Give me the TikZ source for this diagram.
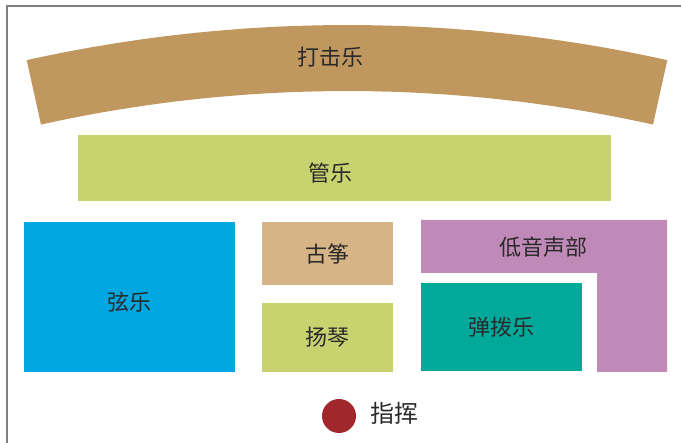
\documentclass[tikz,border=0pt]{standalone}
\usepackage{fontspec}
\newfontfamily\cjk{Noto Sans CJK SC}
\usetikzlibrary{positioning}
\definecolor{percussion}{HTML}{C0975E}
\definecolor{wind}{HTML}{C8D26E}
\definecolor{strings}{HTML}{00A7E1}
\definecolor{guzheng}{HTML}{D6B486}
\definecolor{bass}{HTML}{C08AB8}
\definecolor{plucked}{HTML}{00A99A}
\definecolor{conductor}{HTML}{A0282D}
\definecolor{ink}{HTML}{2A2A2A}
\tikzset{
    section/.style={inner sep=0pt, outer sep=0pt, text=ink,
        font=\cjk\fontsize{22}{26}\selectfont},
    lbl/.style={inner sep=0pt, text=ink, font=\cjk\fontsize{22}{26}\selectfont}
}

\begin{document}
\begin{tikzpicture}[x=1pt, y=-1pt]
    \useasboundingbox (0,0) rectangle (681,443);
    \draw[gray, line width=1.5pt] (7,443) -- (7,6) -- (681,6);
    % percussion band
    \fill[percussion] plot[domain=-102.5:-77.5, samples=60] ({347+1480*cos(\x)},{1505+1480*sin(\x)})
        -- plot[domain=-77.5:-102.5, samples=60] ({347+1414*cos(\x)},{1505+1414*sin(\x)}) -- cycle;
    \node[lbl] at (330,57) (percussion) {打击乐};
    \node[section, fill=wind, minimum width=533pt, minimum height=66pt,
        label={[lbl, xshift=-14.5pt, yshift=-5pt]center:管乐}] at (344.5,168) (wind) {};
    \node[section, fill=strings, minimum width=211pt, minimum height=150pt,
        label={[lbl, yshift=-5pt]center:弦乐}] at (129.5,297) (strings) {};
    \node[section, fill=guzheng, minimum width=131pt, minimum height=63pt] at (327.5,253.5) (guzheng) {古筝};
    \node[section, fill=wind, minimum width=131pt, minimum height=69pt] at (327.5,337.5) (yangqin) {扬琴};
    % bass section, L shape
    \fill[bass] (421,220) -- (667,220) -- (667,372) -- (597,372) -- (597,273) -- (421,273) -- cycle;
    \node[lbl] at (543,247) (bass) {低音声部};
    \node[section, fill=plucked, minimum width=161pt, minimum height=88pt] at (501.5,327) (plucked) {弹拨乐};
    \fill[conductor] (339,416) circle (17);
    \node[lbl, font=\cjk\fontsize{24}{28}\selectfont] at (394,413) (conductor) {指挥};
\end{tikzpicture}
\end{document}
